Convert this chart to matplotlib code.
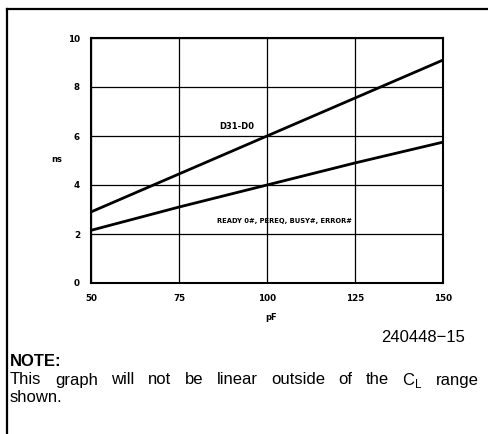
import matplotlib
matplotlib.use("Agg")
import matplotlib.pyplot as plt
from matplotlib.lines import Line2D

# data
load_pf = [50, 75, 100, 125, 150]
d31_d0 = [2.9, 4.45, 6.0, 7.55, 9.1]
ready_etc = [2.15, 3.1, 4.0, 4.9, 5.75]

x_ticks = [50, 75, 100, 125, 150]
y_ticks = [0, 2, 4, 6, 8, 10]

W, H = 488, 434
fig = plt.figure(figsize=(W / 100, H / 100), dpi=100)

# outer frame (top and left edges only, like the scan)
fig.add_artist(Line2D([7 / W, 1.0], [1 - 9 / H, 1 - 9 / H], color="black", lw=1.6))
fig.add_artist(Line2D([7 / W, 7 / W], [0.0, 1 - 9 / H], color="black", lw=1.6))

ax = fig.add_axes([91 / W, 1 - 283 / H, 352 / W, 245 / H])
ax.plot(load_pf, d31_d0, color="black", lw=2)
ax.plot(load_pf, ready_etc, color="black", lw=2)

ax.set_xlim(50, 150)
ax.set_ylim(0, 10)
ax.set_xticks(x_ticks)
ax.set_yticks(y_ticks)
ax.grid(True, color="black", lw=0.9)
ax.tick_params(length=0, labelsize=6.3, pad=8)
for lab in ax.get_xticklabels() + ax.get_yticklabels():
    lab.set_fontweight("bold")
for s in ax.spines.values():
    s.set_linewidth(1.5)

ax.text(86.5, 6.3, "D31-D0", fontsize=6, fontweight="bold")
ax.text(85.8, 2.45, "READY 0#, PEREQ, BUSY#, ERROR#", fontsize=4.9, fontweight="bold")

fig.text(57 / W, 1 - 160 / H, "ns", fontsize=6, fontweight="bold", ha="center", va="center")
fig.text(271 / W, 1 - 318 / H, "pF", fontsize=6, fontweight="bold", ha="center", va="center")

font = "Liberation Sans"
fig.text(465 / W, 1 - 338 / H, "240448\u221215", fontsize=12, family=font, ha="right", va="center")
fig.text(10 / W, 1 - 362 / H, "NOTE:", fontsize=12, family=font, fontweight="bold", va="center")

# justified note line: place words one by one across the width
words = ["This", "graph", "will", "not", "be", "linear", "outside", "of", "the",
         "C$_\\mathregular{L}$", "range"]
left, right = 10, 479
fig.canvas.draw()
renderer = fig.canvas.get_renderer()
arts = []
widths = []
for w in words:
    t = fig.text(0, 1 - 380 / H, w, fontsize=12, family=font, va="center")
    widths.append(t.get_window_extent(renderer).width)
    arts.append(t)
gap = (right - left - sum(widths)) / (len(words) - 1)
x = left
for t, wd in zip(arts, widths):
    t.set_x(x / W)
    x += wd + gap
fig.text(10 / W, 1 - 397 / H, "shown.", fontsize=12, family=font, va="center")

fig.savefig("out.png", dpi=100)
